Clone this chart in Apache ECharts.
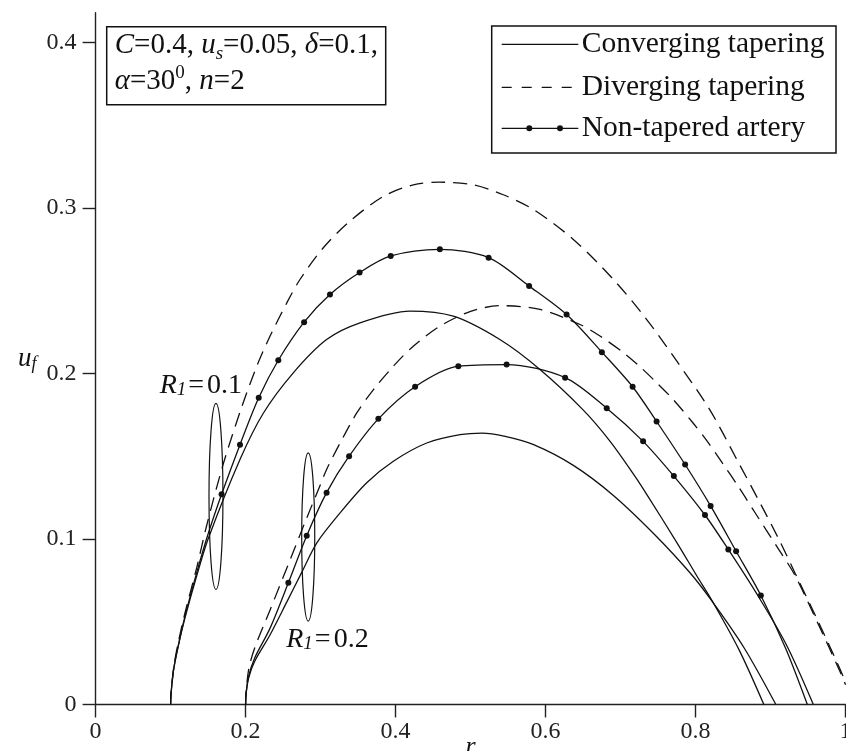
<!DOCTYPE html>
<html><head><meta charset="utf-8">
<script src="https://cdn.jsdelivr.net/npm/echarts@6/dist/echarts.min.js"></script>
<style>html,body{margin:0;padding:0;background:#fff;}#c{width:846px;height:751px;}</style>
</head><body><div id="c"></div>
<script>
const FONT = '"Liberation Serif", "Times New Roman", serif';
const xTicks = [0, 0.2, 0.4, 0.6, 0.8, 1];
const yTicks = [0, 0.1, 0.2, 0.3, 0.4];
const legendNames = ['Converging tapering', 'Diverging tapering', 'Non-tapered artery'];

// Converging tapering
const convR01 = [[0.100,0.000],[0.1005,0.006],[0.104,0.021],[0.110,0.035],[0.119,0.052],[0.135,0.078],[0.150,0.100],[0.1925,0.148],[0.2236,0.176],[0.2636,0.2004],[0.308,0.2205],[0.3525,0.2306],[0.419,0.2377],[0.477,0.2346],[0.539,0.2205],[0.5925,0.2024],[0.650,0.178],[0.686,0.159],[0.719,0.138],[0.7348,0.127],[0.7748,0.098],[0.8015,0.0778],[0.8236,0.0614],[0.858,0.033],[0.891,0.000]];
const convR02 = [[0.200,0.000],[0.2005,0.006],[0.204,0.016],[0.212,0.026],[0.2325,0.042],[0.255,0.062],[0.275,0.080],[0.295,0.0977],[0.326,0.1158],[0.3615,0.134],[0.397,0.147],[0.4415,0.158],[0.486,0.163],[0.515,0.164],[0.546,0.162],[0.584,0.157],[0.637,0.1445],[0.690,0.1265],[0.7436,0.1035],[0.7925,0.0796],[0.8236,0.0614],[0.865,0.034],[0.907,0.000]];

// Diverging tapering
const divR01 = [[0.100,0.000],[0.1005,0.006],[0.104,0.022],[0.110,0.037],[0.119,0.055],[0.135,0.083],[0.148,0.108],[0.170,0.145],[0.195,0.180],[0.215,0.2045],[0.2325,0.2225],[0.255,0.2427],[0.2725,0.2568],[0.3036,0.276],[0.339,0.292],[0.3836,0.307],[0.4236,0.314],[0.459,0.3156],[0.5036,0.314],[0.5436,0.308],[0.584,0.299],[0.637,0.281],[0.690,0.257],[0.733,0.2337],[0.775,0.2074],[0.819,0.178],[0.855,0.148],[0.888,0.120],[0.9116,0.0993],[0.9325,0.0795],[0.9636,0.050],[0.9925,0.0215],[1.0,0.0135]];
const divR02 = [[0.200,0.000],[0.2005,0.006],[0.204,0.021],[0.212,0.034],[0.2325,0.057],[0.259,0.087],[0.280,0.111],[0.299,0.132],[0.308,0.142],[0.326,0.158],[0.348,0.176],[0.370,0.190],[0.397,0.2044],[0.4236,0.2165],[0.459,0.2286],[0.500,0.2375],[0.539,0.241],[0.5925,0.2387],[0.646,0.2296],[0.673,0.2225],[0.704,0.2125],[0.726,0.204],[0.748,0.1945],[0.770,0.1843],[0.795,0.171],[0.8156,0.159],[0.8356,0.146],[0.858,0.131],[0.880,0.1154],[0.908,0.0957],[0.9325,0.078],[0.9636,0.0485],[0.9925,0.020],[1.0,0.012]];

// Non-tapered artery: marked points and unmarked curve points
const nonR01Marks = [[0.168,0.127],[0.1925,0.157],[0.2175,0.1853],[0.2436,0.208],[0.278,0.231],[0.3125,0.2477],[0.352,0.261],[0.3935,0.271],[0.459,0.275],[0.524,0.270],[0.578,0.2528],[0.628,0.2356],[0.675,0.2129],[0.716,0.192],[0.748,0.171],[0.786,0.145],[0.820,0.120],[0.854,0.0926],[0.887,0.0659]];
const nonR01Plain = [[0.100,0.000],[0.1005,0.006],[0.104,0.021],[0.110,0.035],[0.119,0.053],[0.135,0.080],[0.150,0.103],[0.920,0.034],[0.949,0.000]];
const nonR02Marks = [[0.257,0.0735],[0.2815,0.102],[0.308,0.128],[0.338,0.150],[0.377,0.1726],[0.426,0.192],[0.4836,0.2044],[0.548,0.2054],[0.626,0.1975],[0.6815,0.179],[0.730,0.159],[0.771,0.138],[0.8125,0.1145],[0.8436,0.0937]];
const nonR02Plain = [[0.200,0.000],[0.2005,0.006],[0.204,0.017],[0.212,0.028],[0.2325,0.046],[0.880,0.068],[0.920,0.037],[0.957,0.000]];

// annotations (data coordinates)
const ellipses = [{cx:0.1605, cy:0.1257, rx:0.0093, ry:0.0562},{cx:0.2835, cy:0.1012, rx:0.0087, ry:0.0508}];
const rLabels = [{x:0.141, y:0.1927, value:'0.1'},{x:0.3098, y:0.0393, value:'0.2'}];

function mergeNon(marks, plain){
  const all = marks.map(p => ({value:p})).concat(plain.map(p => ({value:p, symbol:'none'})));
  all.sort((a,b) => a.value[0]-b.value[0]);
  return all;
}
const LINE = {color:'#111', width:1.3};
const DASH = {color:'#111', width:1.3, type:[14,8]};
function curve(name, data, ls, sym){
  return {name, type:'line', data, smooth:0.3,
    symbol: sym ? 'circle' : 'none', symbolSize:6, showSymbol: !!sym, showAllSymbol:true,
    lineStyle: ls, itemStyle:{color:'#111'}, emphasis:{disabled:true}, z:3};
}
const fmt = v => (Math.abs(v*10 - Math.round(v*10)) < 1e-6) ? String(+v.toFixed(1)) : '';
const richBase = {
  i:{fontFamily:FONT, fontStyle:'italic', fontSize:29, color:'#111'},
  sub:{fontFamily:FONT, fontStyle:'italic', fontSize:19, lineHeight:18, verticalAlign:'bottom', color:'#111'},
  sup:{fontFamily:FONT, fontSize:19, lineHeight:18, verticalAlign:'top', color:'#111'}
};

const chart = echarts.init(document.getElementById('c'), null, {renderer:'canvas'});
const option = {
  animation:false,
  backgroundColor:'#fff',
  grid:{left:95.6, right:0.4, top:12.7, bottom:46.5, outerBoundsMode:'none', containLabel:false},
  title:{
    left:106.7, top:26.7,
    text:'{i|C}=0.4, {i|u}{sub|s}=0.05, {i|δ}=0.1,\n{i|α}=30{sup|0}, {i|n}=2',
    borderColor:'#111', borderWidth:1.5, padding:[1,8,5,8],
    textStyle:{fontFamily:FONT, fontSize:29, fontWeight:'normal', color:'#111', lineHeight:36, rich:richBase}
  },
  xAxis:{
    type:'value', min:0, max:1, interval:0.2,
    name:'{i|r}', nameLocation:'middle', nameGap:30, nameMoveOverlap:false,
    nameTextStyle:{rich:{i:{fontFamily:FONT, fontStyle:'italic', fontSize:26, color:'#111'}}},
    axisLine:{show:true, onZero:false, lineStyle:{color:'#222', width:1.4}},
    axisTick:{show:true, length:13, lineStyle:{color:'#222', width:1.4}},
    axisLabel:{margin:15, fontFamily:FONT, fontSize:24, color:'#222', formatter:v => String(+v.toFixed(1))},
    splitLine:{show:false}
  },
  yAxis:{
    type:'value', min:0, max:0.418, interval:0.1,
    name:'{i|u}{sub|f}', nameLocation:'middle', nameGap:59, nameRotate:0, nameMoveOverlap:false,
    nameTextStyle:{lineHeight:30, rich:{
      i:{fontFamily:FONT, fontStyle:'italic', fontSize:27, lineHeight:30, color:'#111'},
      sub:{fontFamily:FONT, fontStyle:'italic', fontSize:18, lineHeight:18, verticalAlign:'bottom', color:'#111'}}},
    axisLine:{show:true, onZero:false, lineStyle:{color:'#222', width:1.4}},
    axisTick:{show:true, length:13, customValues:yTicks, lineStyle:{color:'#222', width:1.4}},
    axisLabel:{margin:19, customValues:yTicks, fontFamily:FONT, fontSize:24, color:'#222', formatter:fmt},
    splitLine:{show:false}
  },
  series:[
    curve(legendNames[0], convR01, LINE, false),
    curve(legendNames[0], convR02, LINE, false),
    curve(legendNames[1], divR01, DASH, false),
    curve(legendNames[1], divR02, DASH, false),
    curve(legendNames[2], mergeNon(nonR01Marks, nonR01Plain), LINE, true),
    curve(legendNames[2], mergeNon(nonR02Marks, nonR02Plain), LINE, true)
  ]
};
chart.setOption(option);

const graphics = [];
ellipses.forEach(e => {
  const c = chart.convertToPixel({gridIndex:0}, [e.cx, e.cy]);
  const q = chart.convertToPixel({gridIndex:0}, [e.cx + e.rx, e.cy + e.ry]);
  graphics.push({type:'ellipse', shape:{cx:c[0], cy:c[1], rx:Math.abs(q[0]-c[0]), ry:Math.abs(c[1]-q[1])},
    style:{fill:'none', stroke:'#111', lineWidth:1.2}, z:5});
});
rLabels.forEach(l => {
  const p = chart.convertToPixel({gridIndex:0}, [l.x, l.y]);
  graphics.push({type:'text', x:p[0], y:p[1], z:6, style:{
    text:'{i|R}{sub|1}{t|=}{t|' + l.value + '}', align:'center', verticalAlign:'middle',
    fontFamily:FONT, fontSize:28, fill:'#111',
    rich:{
      i:{fontFamily:FONT, fontStyle:'italic', fontSize:28, fill:'#111'},
      sub:{fontFamily:FONT, fontStyle:'italic', fontSize:19, lineHeight:18, verticalAlign:'bottom', fill:'#111'},
      t:{fontFamily:FONT, fontSize:28, fill:'#111', padding:[0,1,0,2]}
    }}});
});

// legend box (drawn as graphics)
const LG = {x:491.7, y:26, w:344.3, h:127, rows:[44.3, 87.3, 128.3], x1:501.7, x2:578.3, tx:581.7};
graphics.push({type:'rect', shape:{x:LG.x, y:LG.y, width:LG.w, height:LG.h}, style:{fill:'#fff', stroke:'#111', lineWidth:1.5}, z:7});
graphics.push({type:'line', shape:{x1:LG.x1, y1:LG.rows[0], x2:LG.x2, y2:LG.rows[0]}, style:{stroke:'#111', lineWidth:1.3}, z:8});
graphics.push({type:'line', shape:{x1:LG.x1, y1:LG.rows[1], x2:LG.x2 + 3, y2:LG.rows[1]}, style:{stroke:'#111', lineWidth:1.3, lineDash:[10,10]}, z:8});
graphics.push({type:'line', shape:{x1:LG.x1, y1:LG.rows[2], x2:LG.x2, y2:LG.rows[2]}, style:{stroke:'#111', lineWidth:1.3}, z:8});
[529.3, 560].forEach(cx => graphics.push({type:'circle', shape:{cx, cy:LG.rows[2], r:3}, style:{fill:'#111'}, z:9}));
legendNames.forEach((n, i) => graphics.push({type:'text', x:LG.tx, y:LG.rows[i], z:8,
  style:{text:n, align:'left', verticalAlign:'middle', fontFamily:FONT, fontSize:29.5, fill:'#111'}}));

chart.setOption({graphic:graphics});
</script></body></html>
